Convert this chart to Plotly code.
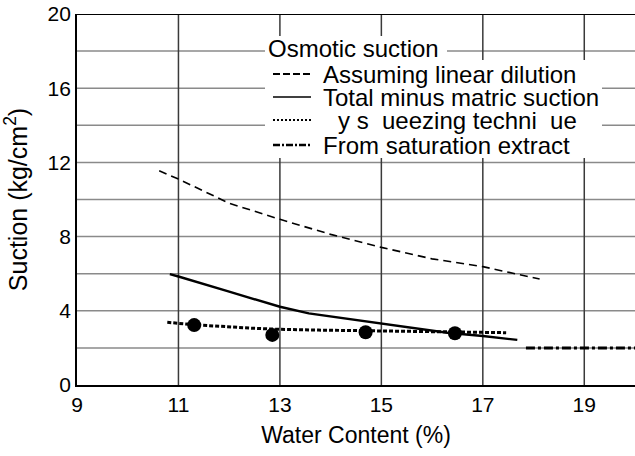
import plotly.graph_objects as go

# Osmotic suction against water content
dilution_x = [10.62, 11.0, 12.0, 13.0, 14.0, 15.0, 16.0, 17.0, 18.12]
dilution_y = [11.55, 11.1, 9.8, 8.93, 8.12, 7.42, 6.8, 6.38, 5.71]

matric_x = [10.83, 11.0, 12.0, 13.0, 13.57, 15.0, 16.3, 17.0, 17.68]
matric_y = [5.98, 5.85, 5.03, 4.22, 3.86, 3.33, 2.82, 2.64, 2.43]

squeeze_line_x = [10.78, 11.3, 12.45, 13.0, 13.76, 14.35, 15.34, 16.0, 17.46]
squeeze_line_y = [3.38, 3.25, 3.06, 3.0, 2.96, 2.94, 2.88, 2.86, 2.82]

squeeze_pts_x = [11.31, 12.85, 14.69, 16.45]
squeeze_pts_y = [3.23, 2.70, 2.84, 2.79]

saturation_x = [17.85, 20.0]
saturation_y = [2.0, 2.0]

x_ticks = [9, 11, 13, 15, 17, 19]
y_ticks = [0, 4, 8, 12, 16, 20]
y_grid = [2, 4, 6, 8, 10, 12, 14, 16, 18]

legend_title = "Osmotic suction"
legend_labels = [
    "Assuming linear dilution",
    "Total minus matric suction",
    "y s\u00a0\u00a0ueezing techni\u00a0\u00a0ue",
    "From saturation extract",
]

FONT = "Liberation Sans, Arial, sans-serif"
W, H = 635, 456
ML, MR, MT, MB = 77, 0, 14, 71
PW, PH = W - ML - MR, H - MT - MB

DOT = "4px,2px"
DASH = "8px,5px"
DASHDOT = "9px,3px,3px,3px"


def px_x(p):
    return (p - ML) / PW


def px_y(p):
    return (H - MB - p) / PH


fig = go.Figure()

fig.add_trace(go.Scatter(x=dilution_x, y=dilution_y, mode="lines",
                         line=dict(color="black", width=1.6, dash=DASH)))
fig.add_trace(go.Scatter(x=matric_x, y=matric_y, mode="lines",
                         line=dict(color="black", width=2.4)))
fig.add_trace(go.Scatter(x=squeeze_line_x, y=squeeze_line_y, mode="lines",
                         line=dict(color="black", width=3, dash=DOT)))
fig.add_trace(go.Scatter(x=squeeze_pts_x, y=squeeze_pts_y, mode="markers",
                         marker=dict(color="black", size=14)))
fig.add_trace(go.Scatter(x=saturation_x, y=saturation_y, mode="lines",
                         line=dict(color="black", width=3, dash=DASHDOT)))

shapes = []
# grid: grey horizontal lines every 2, dark vertical lines at the labelled x ticks
for gy in y_grid:
    shapes.append(dict(type="line", xref="paper", yref="y", x0=0, x1=1, y0=gy, y1=gy,
                       line=dict(color="#8a8a8a", width=1.5), layer="below"))
for gx in x_ticks[1:]:
    shapes.append(dict(type="line", xref="x", yref="paper", x0=gx, x1=gx, y0=0, y1=1,
                       line=dict(color="#3a3a3a", width=1.5), layer="below"))
# top border of the plot frame
shapes.append(dict(type="line", xref="paper", yref="y", x0=0, x1=1, y0=20, y1=20,
                   line=dict(color="black", width=1.8), layer="above"))
# legend panel: title block sitting on the grid line, and the box below
shapes.append(dict(type="rect", xref="paper", yref="paper",
                   x0=px_x(265), x1=px_x(447), y0=px_y(60), y1=px_y(36),
                   fillcolor="white", line=dict(width=0), layer="above"))
shapes.append(dict(type="rect", xref="paper", yref="paper",
                   x0=px_x(265), x1=px_x(602), y0=px_y(158), y1=px_y(60),
                   fillcolor="white", line=dict(width=0), layer="above"))

row_y = [74, 97, 120, 145]
samples = [
    dict(color="black", width=2, dash="7px,3px"),
    dict(color="black", width=1.6),
    dict(color="black", width=2, dash="2px,2px"),
    dict(color="black", width=2.5, dash="7px,2px,2px,2px"),
]
for ry, st in zip(row_y, samples):
    shapes.append(dict(type="line", xref="paper", yref="paper",
                       x0=px_x(273), x1=px_x(311), y0=px_y(ry), y1=px_y(ry),
                       line=st, layer="above"))

annotations = [dict(text=legend_title, xref="paper", yref="paper",
                    x=px_x(266), y=px_y(48), xanchor="left", yanchor="middle",
                    showarrow=False, font=dict(family=FONT, size=24, color="black"))]
label_x = [321, 321, 336, 321]
for lx, ry, lab in zip(label_x, row_y, legend_labels):
    annotations.append(dict(text=lab, xref="paper", yref="paper",
                            x=px_x(lx), y=px_y(ry), xanchor="left", yanchor="middle",
                            showarrow=False,
                            font=dict(family=FONT, size=24, color="black")))

fig.update_layout(
    width=W, height=H,
    margin=dict(l=ML, r=MR, t=MT, b=MB),
    paper_bgcolor="white", plot_bgcolor="white",
    showlegend=False,
    font=dict(family=FONT, color="black"),
    shapes=shapes,
    annotations=annotations,
    xaxis=dict(
        range=[9, 20], tickvals=x_ticks, ticktext=[str(v) for v in x_ticks],
        showgrid=False,
        showline=True, linecolor="black", linewidth=1.8,
        zeroline=False, ticks="",
        tickfont=dict(size=21, family=FONT),
        title=dict(text="Water Content (%)", font=dict(size=23, family=FONT), standoff=12),
    ),
    yaxis=dict(
        range=[0, 20], tickvals=y_ticks, ticktext=[str(v) for v in y_ticks],
        showgrid=False,
        showline=True, linecolor="black", linewidth=1.8,
        zeroline=False, ticks="",
        tickfont=dict(size=21, family=FONT),
        title=dict(text="Suction (kg/cm<sup>2</sup>)", font=dict(size=25, family=FONT), standoff=16),
    ),
)

fig.write_html("out.html")
